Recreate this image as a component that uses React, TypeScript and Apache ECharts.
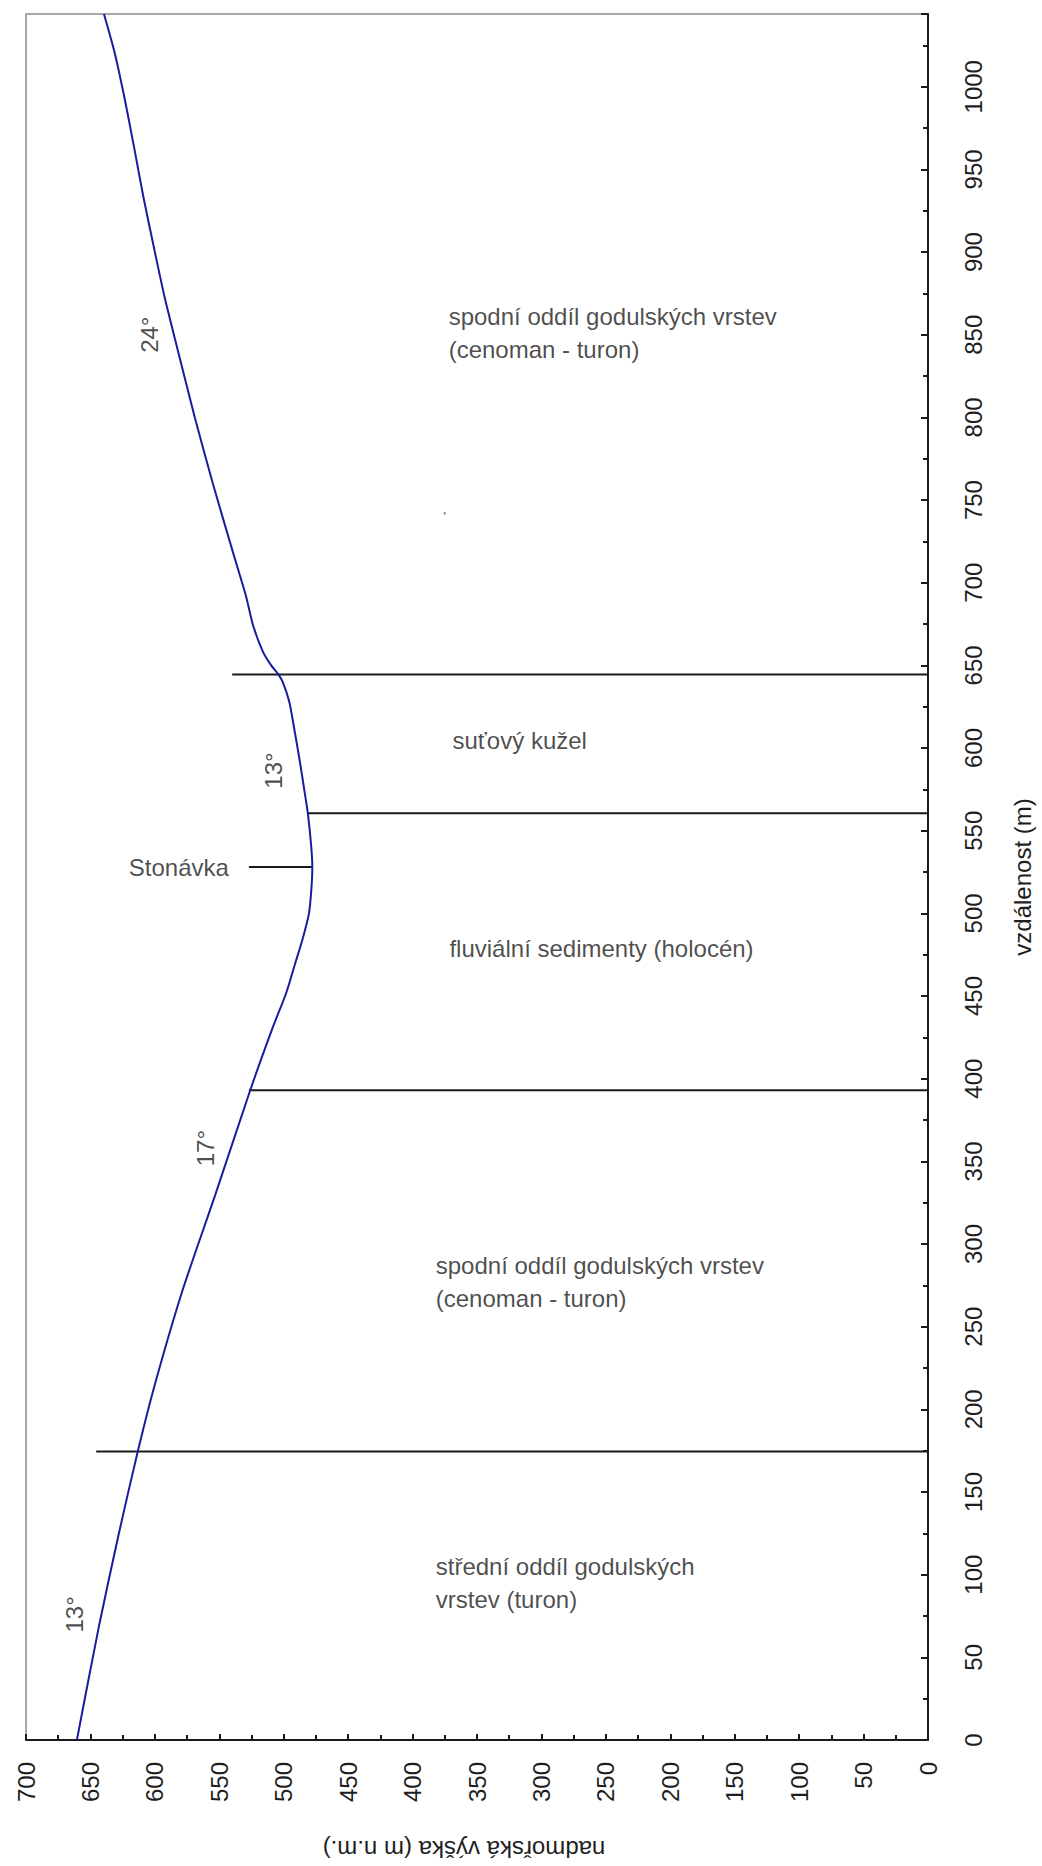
import React, { useEffect, useRef } from "react";
import * as echarts from "echarts";

// Terrain profile: distance along profile (m) and elevation (m n.m.)
const profileDistance = [0, 68, 124, 174, 215, 272, 330, 393, 430, 452, 470, 484, 500, 515, 528, 540, 560, 576, 592, 612, 628, 640, 645, 650, 658, 674, 692, 720, 760, 800, 840, 873, 900, 933, 965, 993, 1020, 1044];
const profileElevation = [660.5, 643.6, 628.2, 613.4, 600, 578.5, 553, 526, 509, 498, 491, 485.5, 480.4, 478.5, 477.8, 478.6, 481.2, 484.3, 487.5, 491.9, 495.7, 500.8, 504.6, 509.7, 516, 523.7, 529.3, 540, 555, 569, 582, 592.5, 600, 608.8, 616.5, 623.5, 631, 639.5];

// Geological boundaries (distance, elevation of upper end) — each runs down to 0
const boundaryDistance = [174.5, 393, 560.5, 644.5];
const boundaryTop = [645.5, 527, 481.2, 540];

// Stonávka river marker
const riverName = "Stonávka";
const riverDistance = 528;
const riverElevation = [527, 477.8];

// Unit labels: [elevation, distance, text]
const unitLabels: [number, number, string][] = [
  [372, 851, "spodní oddíl godulských vrstev\n(cenoman - turon)"],
  [369, 604.4, "suťový kužel"],
  [371.4, 478.7, "fluviální sedimenty (holocén)"],
  [382, 277, "spodní oddíl godulských vrstev\n(cenoman - turon)"],
  [382, 95, "střední oddíl godulských\nvrstev (turon)"],
];

// Slope angle labels: [elevation, distance, text]
const angleLabels: [number, number, string][] = [
  [604, 850, "24°"],
  [508, 586.4, "13°"],
  [561, 358, "17°"],
  [662.5, 76, "13°"],
];

const strayDot: [number, number] = [375, 742];

const xAxisTitle = "nadmořská výška (m n.m.)";
const yAxisTitle = "vzdálenost (m)";

const FONT = "Liberation Sans, Arial, sans-serif";
const TXT = "#1e1e1e";

export default function App() {
  const ref = useRef<HTMLDivElement>(null);
  useEffect(() => {
    document.body.style.margin = "0";
    const chart = echarts.init(ref.current!, null, { renderer: "svg" });

    const profileData = profileDistance.map((d, i) => [profileElevation[i], d]);

    const boundarySeries = boundaryDistance.map((d, i) => ({
      type: "line",
      data: [
        [boundaryTop[i], d],
        [0, d],
      ],
      symbol: "none",
      lineStyle: { color: "#1a1a1a", width: 2 },
      z: 3,
      silent: true,
    }));

    const option: any = {
      animation: false,
      backgroundColor: "#ffffff",
      textStyle: { fontFamily: FONT },
      grid: {
        left: 26,
        right: 100,
        top: 14,
        bottom: 113,
        show: true,
        borderColor: "#a8a8a8",
        borderWidth: 2,
        backgroundColor: "#ffffff",
      },
      xAxis: {
        type: "value",
        min: 0,
        max: 700,
        interval: 50,
        inverse: true,
        position: "bottom",
        name: xAxisTitle,
        nameLocation: "middle",
        nameRotate: 180,
        nameGap: 97,
        nameTextStyle: { fontSize: 24, color: TXT, fontFamily: FONT, padding: [0, 0, 0, 26] },
        axisLine: { show: true, lineStyle: { color: "#1a1a1a", width: 2 } },
        axisTick: { show: true, inside: true, length: 6, lineStyle: { color: "#1a1a1a", width: 2 } },
        minorTick: { show: true, splitNumber: 2, length: 5, lineStyle: { color: "#1a1a1a", width: 2 } },
        axisLabel: { rotate: 90, margin: 22, fontSize: 24, color: TXT, fontFamily: FONT },
        splitLine: { show: false },
        minorSplitLine: { show: false },
      },
      yAxis: {
        type: "value",
        min: 0,
        max: 1044,
        interval: 50,
        position: "right",
        name: yAxisTitle,
        nameLocation: "middle",
        nameRotate: 90,
        nameGap: 82,
        nameTextStyle: { fontSize: 24, color: TXT, fontFamily: FONT },
        axisLine: { show: true, lineStyle: { color: "#1a1a1a", width: 2 } },
        axisTick: { show: true, inside: true, length: 7, lineStyle: { color: "#1a1a1a", width: 2 } },
        minorTick: { show: true, splitNumber: 2, length: 5, lineStyle: { color: "#1a1a1a", width: 2 } },
        axisLabel: {
          rotate: 90,
          margin: 33,
          fontSize: 24,
          color: TXT,
          fontFamily: FONT,
          formatter: (v: number) => (v % 50 === 0 ? String(v) : ""),
        },
        splitLine: { show: false },
        minorSplitLine: { show: false },
      },
      series: [
        ...boundarySeries,
        {
          type: "line",
          data: [
            [riverElevation[0], riverDistance],
            [riverElevation[1], riverDistance],
          ],
          symbol: "none",
          lineStyle: { color: "#1a1a1a", width: 2 },
          z: 3,
          silent: true,
        },
        {
          type: "line",
          data: profileData,
          symbol: "none",
          smooth: 0.25,
          lineStyle: { color: "#1b1ba0", width: 2 },
          z: 4,
          silent: true,
        },
        {
          type: "scatter",
          symbolSize: 0,
          silent: true,
          z: 5,
          data: [
            ...unitLabels.map(([e, d, t]) => ({
              value: [e, d],
              label: {
                show: true,
                position: "inside",
                formatter: t,
                align: "left",
                verticalAlign: "middle",
                fontSize: 24,
                lineHeight: 33,
                color: TXT,
                fontFamily: FONT,
              },
            })),
            {
              value: [riverElevation[0], riverDistance],
              label: {
                show: true,
                position: "inside",
                formatter: riverName,
                align: "right",
                verticalAlign: "middle",
                offset: [-20, 0],
                fontSize: 24,
                color: TXT,
                fontFamily: FONT,
              },
            },
            ...angleLabels.map(([e, d, t]) => ({
              value: [e, d],
              label: {
                show: true,
                position: "inside",
                formatter: t,
                rotate: 90,
                align: "center",
                verticalAlign: "middle",
                fontSize: 24,
                color: TXT,
                fontFamily: FONT,
              },
            })),
          ],
        },
        {
          type: "scatter",
          symbol: "rect",
          symbolSize: 2,
          silent: true,
          itemStyle: { color: "#555" },
          data: [strayDot],
        },
      ],
    };

    chart.setOption(option);
    return () => chart.dispose();
  }, []);
  return <div ref={ref} style={{ width: 1042, height: 1866, position: "absolute", left: 0, top: 0 }} />;
}
